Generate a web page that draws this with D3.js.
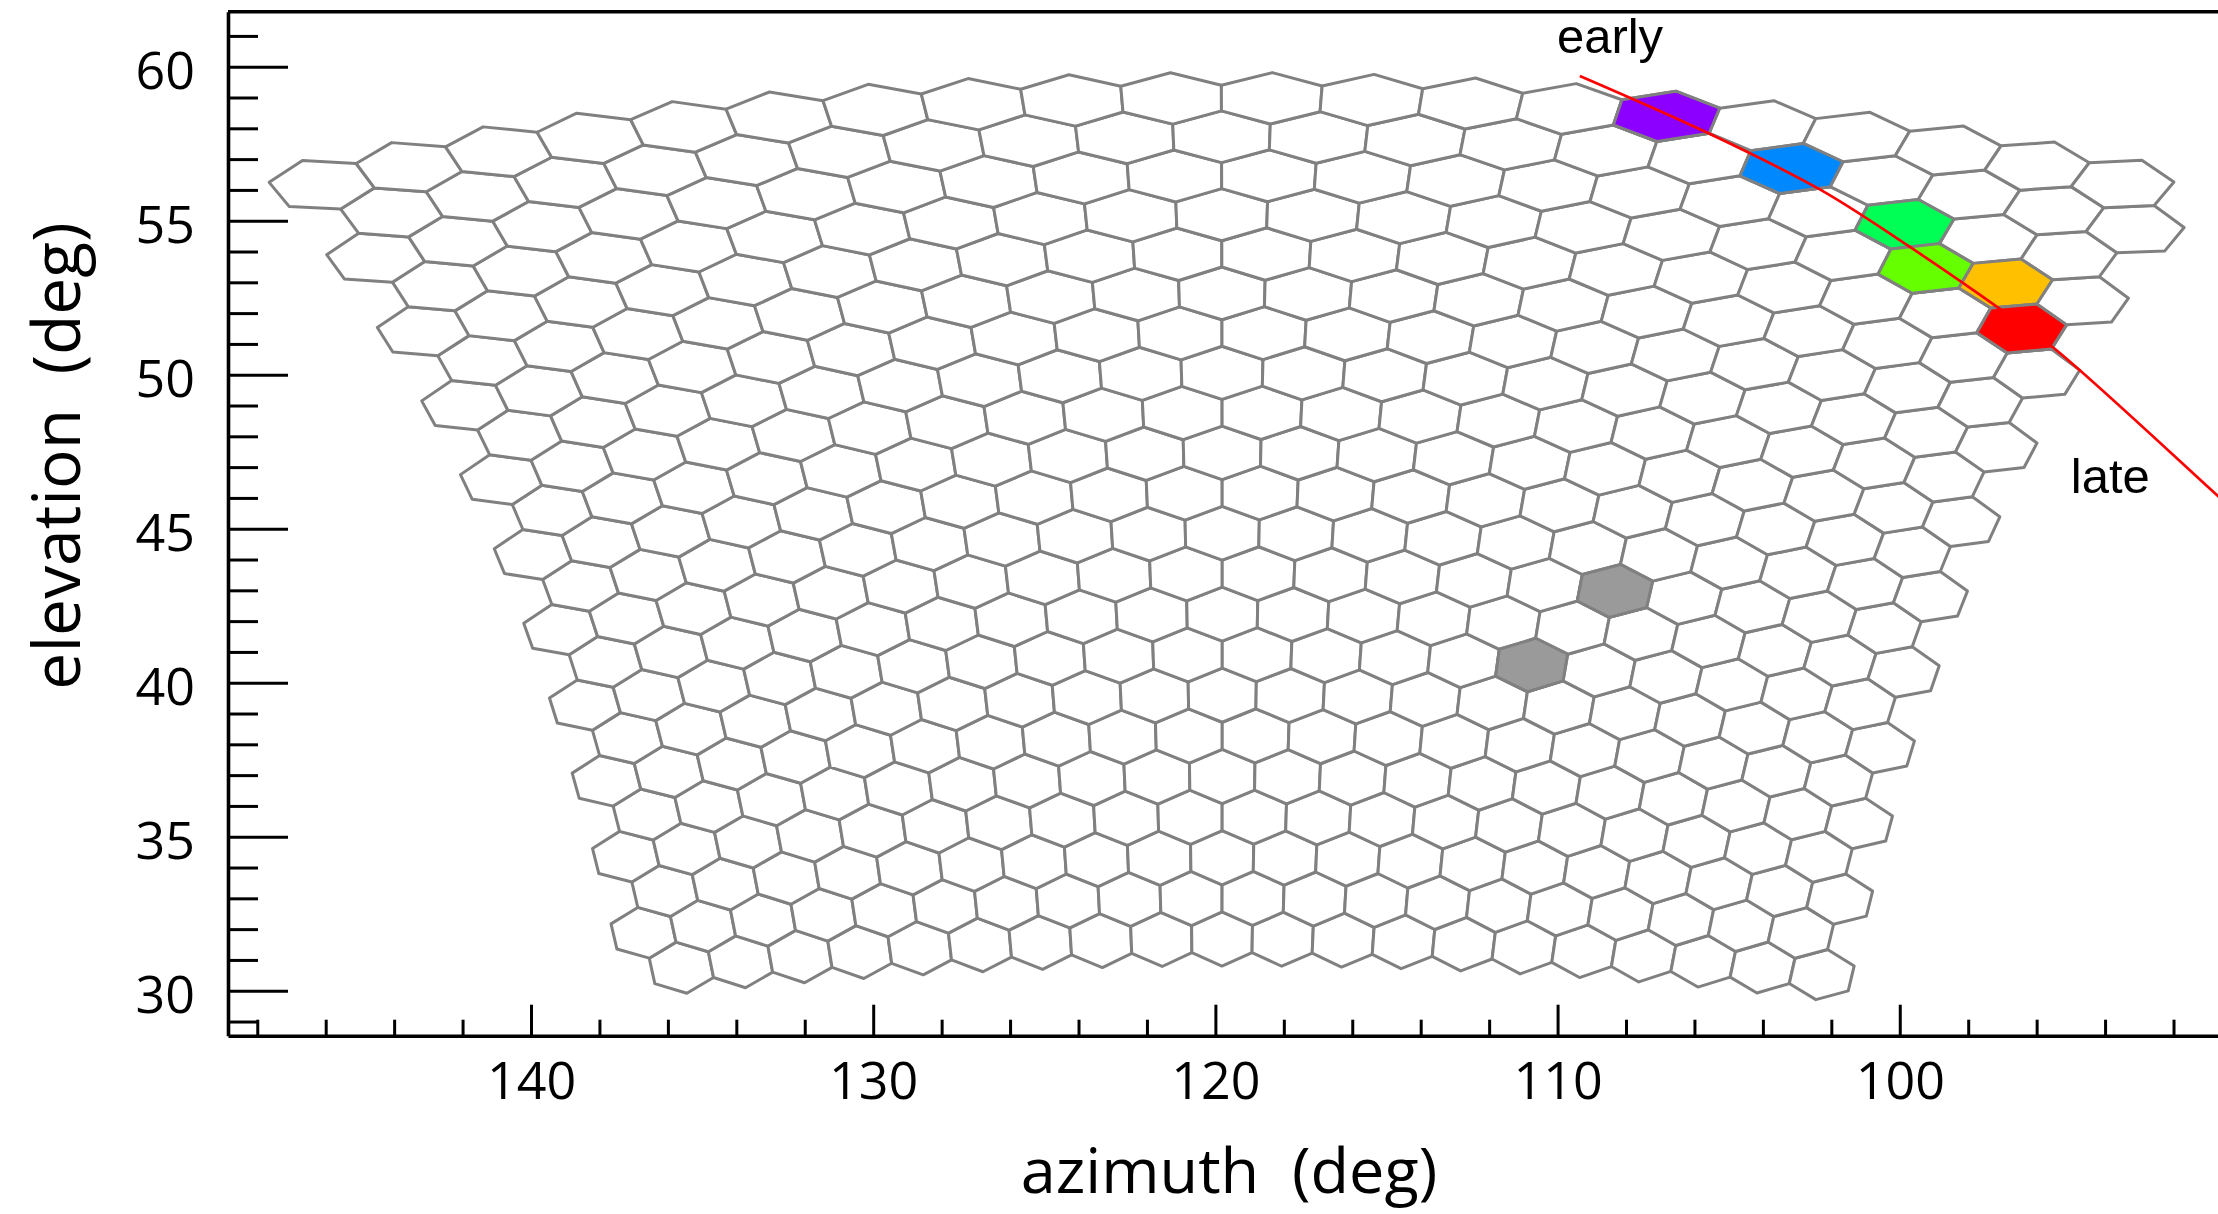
<!DOCTYPE html>
<html>
<head>
<meta charset="utf-8">
<script src="https://cdn.jsdelivr.net/npm/d3@7"></script>
<style>
  html, body { margin: 0; padding: 0; background: #fff; }
  svg { display: block; }
</style>
</head>
<body>
<svg id="chart" width="2218" height="1214"></svg>
<script>
// Ommatidial lattice: 22 rows of 20 facets, odd rows offset half a facet to the left.
const nRows = 22;
const nCols = 20;

// Row 0 (lowest row), facets 0..19: viewing direction in degrees
const bottomAz = [135.62, 133.88, 132.17, 130.40, 128.66, 126.89, 125.09, 123.35, 121.61, 119.85,
                  118.05, 116.28, 114.48, 112.80, 111.00, 109.23, 107.49, 105.75, 104.07, 102.27];
const bottomEl = [30.77, 30.93, 31.09, 31.26, 31.39, 31.48, 31.58, 31.65, 31.68, 31.68,
                  31.65, 31.61, 31.58, 31.52, 31.42, 31.29, 31.13, 30.93, 30.77, 30.51];

// Row 21 (highest row), facets 0..19
const topAz = [146.11, 143.57, 140.94, 138.29, 135.56, 132.75, 129.92, 127.05, 124.16, 121.27,
               118.38, 115.45, 112.56, 109.67, 106.86, 104.06, 101.25, 98.50, 95.99, 93.51];
const topEl = [56.16, 56.71, 57.23, 57.65, 58.01, 58.33, 58.59, 58.79, 58.92, 58.98,
               58.98, 58.92, 58.79, 58.59, 58.37, 58.04, 57.72, 57.39, 56.78, 56.16];

// First facet of the odd rows (1, 3, ..., 21)
const leftRows = [1, 3, 5, 7, 9, 11, 13, 15, 17, 19, 21];
const leftAz = [136.70, 137.22, 137.75, 138.42, 139.12, 139.94, 140.85, 141.93, 143.13, 144.50, 146.11];
const leftEl = [31.87, 34.34, 36.84, 39.31, 41.71, 44.15, 46.58, 49.02, 51.45, 53.85, 56.16];

// Last facet of the even rows (0, 2, ..., 20)
const rightRows = [0, 2, 4, 6, 8, 10, 12, 14, 16, 18, 20];
const rightAz = [102.27, 101.75, 101.19, 100.58, 99.85, 99.12, 98.24, 97.16, 95.99, 94.68, 93.13];
const rightEl = [30.51, 33.01, 35.44, 37.88, 40.35, 42.78, 45.22, 47.65, 50.09, 52.36, 54.73];

// Highlighted facets (row, facet index within row, fill)
const markRow   = [21, 20, 19, 18, 18, 17, 9, 7];
const markCol   = [14, 15, 17, 17, 18, 19, 15, 14];
const markColor = ["#8b00ff", "#0088ff", "#00ff55", "#66ff00", "#ffc000", "#ff0000", "#9a9a9a", "#9a9a9a"];

// Stimulus trajectory (deg)
const pathAz = [109.35, 105.59, 102.31, 99.64, 96.96, 95.49, 90.70, 90.00];
const pathEl = [59.70, 57.84, 56.00, 54.10, 52.05, 50.86, 46.06, 45.36];

// Axis ticks
const xMajor = [140, 130, 120, 110, 100];
const yMajor = [30, 35, 40, 45, 50, 55, 60];
const xMinor = d3.range(92, 149, 2).filter(d => d % 10 !== 0);
const yMinor = d3.range(29, 62, 1).filter(d => d % 5 !== 0);

// ---------------------------------------------------------------
const svg = d3.select("#chart");
const x = d3.scaleLinear().domain([148.855, 90.70]).range([228, 2218]);
const y = d3.scaleLinear().domain([28.54, 61.786]).range([1035.7, 11.7]);

// least-squares polynomial through a boundary of the lattice
function polyfit(xs, ys, deg) {
  const m = d3.mean(xs), h = (d3.max(xs) - d3.min(xs)) / 2 || 1;
  const n = deg + 1;
  const A = Array.from({length: n}, () => new Array(n).fill(0));
  const b = new Array(n).fill(0);
  xs.forEach((xv, k) => {
    const z = (xv - m) / h;
    const p = d3.range(n).map(i => Math.pow(z, i));
    for (let i = 0; i < n; i++) {
      b[i] += p[i] * ys[k];
      for (let j = 0; j < n; j++) A[i][j] += p[i] * p[j];
    }
  });
  for (let i = 0; i < n; i++) {
    let piv = i;
    for (let r = i + 1; r < n; r++) if (Math.abs(A[r][i]) > Math.abs(A[piv][i])) piv = r;
    [A[i], A[piv]] = [A[piv], A[i]]; [b[i], b[piv]] = [b[piv], b[i]];
    for (let r = i + 1; r < n; r++) {
      const f = A[r][i] / A[i][i];
      for (let c = i; c < n; c++) A[r][c] -= f * A[i][c];
      b[r] -= f * b[i];
    }
  }
  const coef = new Array(n).fill(0);
  for (let i = n - 1; i >= 0; i--) {
    let s = b[i];
    for (let c = i + 1; c < n; c++) s -= A[i][c] * coef[c];
    coef[i] = s / A[i][i];
  }
  return v => { const z = (v - m) / h; let r = 0; for (let i = n - 1; i >= 0; i--) r = r * z + coef[i]; return r; };
}

// lattice coordinates: s = position along a row (odd rows shifted by -0.5), t = row
const sBottom = d3.range(nCols);
const sTop = d3.range(nCols).map(c => c - 0.5);
const B = [polyfit(sBottom, bottomAz, 4), polyfit(sBottom, bottomEl, 4)];
const T = [polyfit(sTop, topAz, 4), polyfit(sTop, topEl, 4)];
const L = [polyfit(leftRows, leftAz, 3), polyfit(leftRows, leftEl, 3)];
const R = [polyfit(rightRows, rightAz, 3), polyfit(rightRows, rightEl, 3)];

const s0 = -0.5, s1 = nCols - 1, t0 = 0, t1 = nRows - 1;
const corner = (f1, a, f2, b) => [0, 1].map(k => (f1[k](a) + f2[k](b)) / 2);
const C00 = corner(B, s0, L, t0), C10 = corner(B, s1, R, t0);
const C01 = corner(T, s0, L, t1), C11 = corner(T, s1, R, t1);

// transfinite (Coons) blend of the four boundary rows/columns -> [az, el]
function lattice(s, t) {
  const u = (s - s0) / (s1 - s0), v = (t - t0) / (t1 - t0);
  return [0, 1].map(k =>
    (1 - v) * B[k](s) + v * T[k](s) + (1 - u) * L[k](t) + u * R[k](t)
    - ((1 - u) * (1 - v) * C00[k] + u * (1 - v) * C10[k] + (1 - u) * v * C01[k] + u * v * C11[k]));
}

// hexagon corners in lattice units
const hexCorners = [[0, 2/3], [0.5, 1/3], [0.5, -1/3], [0, -2/3], [-0.5, -1/3], [-0.5, 1/3]];

function facetPoints(row, col) {
  const s = col - 0.5 * (row % 2), t = row;
  return hexCorners.map(([ds, dt]) => {
    const [az, el] = lattice(s + ds, t + dt);
    return [x(az), y(el)];
  });
}

const facets = [];
for (let r = 0; r < nRows; r++) for (let c = 0; c < nCols; c++) facets.push({row: r, col: c});

const line = d3.line().curve(d3.curveLinearClosed);

svg.append("g").selectAll("path").data(facets).join("path")
  .attr("d", d => line(facetPoints(d.row, d.col)))
  .attr("fill", "#fff")
  .attr("stroke", "#808080")
  .attr("stroke-width", 3)
  .attr("stroke-linejoin", "round");

svg.append("g").selectAll("path").data(d3.range(markRow.length)).join("path")
  .attr("d", i => line(facetPoints(markRow[i], markCol[i])))
  .attr("fill", i => markColor[i])
  .attr("stroke", "#808080")
  .attr("stroke-width", 3)
  .attr("stroke-linejoin", "round");

// trajectory
svg.append("path")
  .attr("d", d3.line().curve(d3.curveCatmullRom)(pathAz.map((a, i) => [x(a), y(pathEl[i])])))
  .attr("fill", "none")
  .attr("stroke", "#ff0000")
  .attr("stroke-width", 2.7);

svg.append("text").attr("x", x(110.02)).attr("y", y(60.43))
  .attr("font-family", "'Liberation Sans', Arial, sans-serif").attr("font-size", 49)
  .text("early");
svg.append("text").attr("x", x(95.0)).attr("y", y(46.15))
  .attr("font-family", "'Liberation Sans', Arial, sans-serif").attr("font-size", 49)
  .text("late");

// axes
const axisFont = "'Open Sans', sans-serif";
const gx = svg.append("g").attr("transform", `translate(0,${y.range()[0]})`)
  .call(d3.axisBottom(x).tickValues(xMajor).tickSize(-31).tickSizeOuter(0).tickPadding(26).tickFormat(d3.format("d")));
gx.append("g")
  .call(d3.axisBottom(x).tickValues(xMinor).tickSize(-16).tickSizeOuter(0).tickFormat(""))
  .select(".domain").remove();

const gy = svg.append("g").attr("transform", `translate(${x.range()[0]},0)`)
  .call(d3.axisLeft(y).tickValues(yMajor).tickSize(-60).tickSizeOuter(0).tickPadding(33).tickFormat(d3.format("d")));
gy.append("g")
  .call(d3.axisLeft(y).tickValues(yMinor).tickSize(-30).tickSizeOuter(0).tickFormat(""))
  .select(".domain").remove();
gy.selectAll(".tick text").attr("dy", "0.42em");

[gx, gy].forEach(g => {
  g.attr("font-family", axisFont).attr("font-size", 52);
  g.selectAll(".tick text").attr("fill", "#000");
  g.selectAll(".tick line").attr("stroke", "#000").attr("stroke-width", 3);
  g.selectAll(".domain").attr("stroke", "#000").attr("stroke-width", 3.6);
});

// top border
svg.append("line")
  .attr("x1", x.range()[0]).attr("x2", x.range()[1])
  .attr("y1", y.range()[1]).attr("y2", y.range()[1])
  .attr("stroke", "#000").attr("stroke-width", 3.6);

// axis titles
svg.append("text")
  .attr("x", 1229).attr("y", 1193)
  .attr("text-anchor", "middle")
  .attr("font-family", axisFont).attr("font-size", 63)
  .style("white-space", "pre")
  .text("azimuth  (deg)");
svg.append("text")
  .attr("transform", "translate(80,456) rotate(-90)")
  .attr("text-anchor", "middle")
  .attr("font-family", axisFont).attr("font-size", 66)
  .style("white-space", "pre")
  .text("elevation  (deg)");
</script>
</body>
</html>
